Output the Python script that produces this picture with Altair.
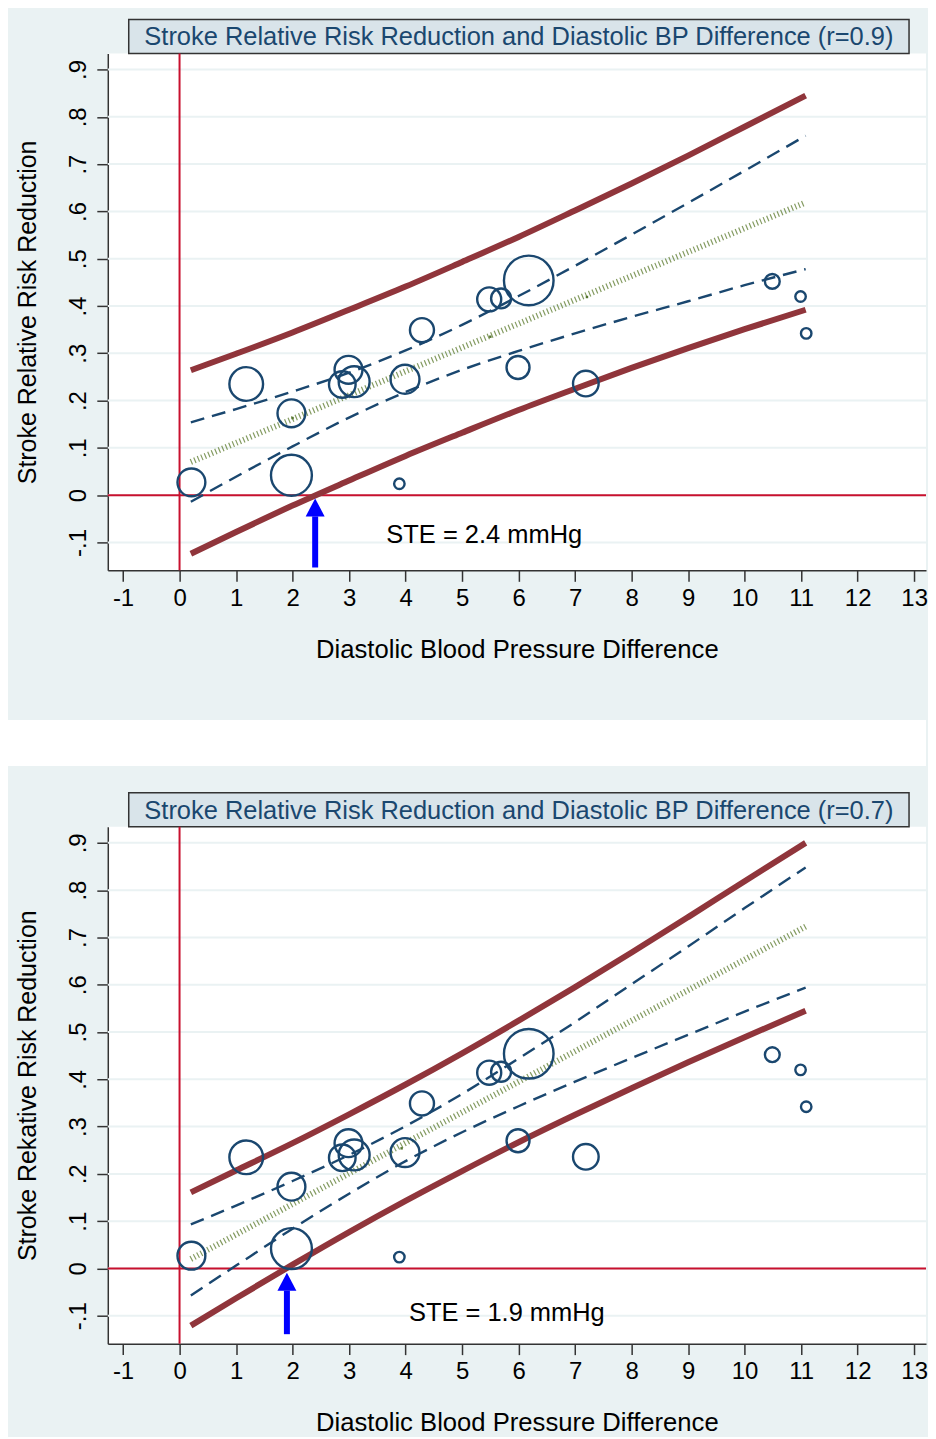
import altair as alt
import pandas as pd

FONT = "Liberation Sans"
BG = "#eaf2f3"
TITLE_BOX = "#d9e4ea"
NAVY = "#1a476f"
MAROON = "#90353b"
RED = "#c8102e"
GREEN = "#6f8a45"
BLUE = "#0000ff"

X_TICKS = list(range(-1, 14))
Y_TICKS = [-0.1, 0.0, 0.1, 0.2, 0.3, 0.4, 0.5, 0.6, 0.7, 0.8, 0.9]

# studies (same in both panels)
study_x = [0.21, 1.18, 1.98, 1.98, 2.88, 2.99, 3.09, 3.89, 3.99, 4.29, 5.48, 5.69, 6.18, 5.99, 7.19, 10.49, 10.99, 11.09]
study_y = [0.027, 0.235, 0.173, 0.042, 0.234, 0.265, 0.240, 0.024, 0.245, 0.349, 0.414, 0.416, 0.454, 0.270, 0.236, 0.452, 0.420, 0.342]
study_w = [7.8, 11.4, 7.8, 16.8, 7.1, 7.8, 9.6, 1.1, 8.4, 5.8, 5.8, 4.0, 24.7, 5.3, 6.6, 2.2, 1.1, 1.1]

# x positions at which the band curves were read
band_x = [0.2, 1, 2, 3, 4, 5, 6, 7, 8, 9, 10, 11.08]

# panel 1 (r=0.9)
p1_pi_hi = [0.264, 0.299, 0.344, 0.392, 0.441, 0.493, 0.546, 0.602, 0.659, 0.718, 0.779, 0.845]
p1_pi_lo = [-0.124, -0.078, -0.022, 0.031, 0.083, 0.132, 0.180, 0.225, 0.269, 0.311, 0.351, 0.392]
p1_ci_hi = [0.154, 0.182, 0.219, 0.259, 0.306, 0.360, 0.421, 0.485, 0.551, 0.618, 0.686, 0.760]
p1_ci_lo = [-0.014, 0.039, 0.103, 0.164, 0.218, 0.265, 0.305, 0.342, 0.377, 0.410, 0.444, 0.478]
p1_fit_x = [0.2, 11.08]
p1_fit_y = [0.070, 0.619]
p1_dot_x = [2.0, 5.5, 7.21]
p1_dot_y = [0.163, 0.335, 0.419]

# panel 2 (r=0.7)
p2_pi_hi = [0.161, 0.207, 0.265, 0.326, 0.389, 0.455, 0.524, 0.595, 0.668, 0.743, 0.819, 0.900]
p2_pi_lo = [-0.121, -0.063, 0.008, 0.077, 0.143, 0.206, 0.267, 0.325, 0.381, 0.436, 0.489, 0.545]
p2_ci_hi = [0.093, 0.133, 0.185, 0.240, 0.301, 0.369, 0.444, 0.521, 0.601, 0.681, 0.762, 0.848]
p2_ci_lo = [-0.057, 0.006, 0.084, 0.158, 0.227, 0.288, 0.343, 0.395, 0.445, 0.494, 0.543, 0.594]
p2_fit_x = [0.2, 11.08]
p2_fit_y = [0.020, 0.723]
p2_dot_x = [3.93]
p2_dot_y = [0.254]

W, H = 820, 518
xscale = alt.Scale(domain=[-1.27, 13.21], nice=False, zero=False)
yscale = alt.Scale(domain=[-0.159, 0.934], nice=False, zero=False)
ARROW_PATH = "M-1,0L1,0L0,-1.9Z"


def lines_df(pairs):
    rows = []
    for name, xs, ys in pairs:
        for a, b in zip(xs, ys):
            rows.append({"x": a, "y": b, "band": name})
    return pd.DataFrame(rows)


def panel(title, ytitle, pi, ci, fit, dots, ste, arrow_lo, arrow_hi, note, note_x, note_y,
          top_strip, gap):
    yaxis = alt.Axis(values=Y_TICKS, title=ytitle, grid=False, labelAngle=270,
                     labelExpr="datum.value == 0 ? '0' : (datum.value < 0 ? '-' : '') + "
                               "replace(format(abs(datum.value), '.1f'), '0.', '.')",
                     tickSize=11, labelPadding=6, titlePadding=26, labelFontSize=24, titleFontSize=25,
                     labelFont=FONT, titleFont=FONT, labelColor="black", titleColor="black",
                     titleFontWeight="normal", domainColor="#333333", tickColor="#333333",
                     domainWidth=1.5, tickWidth=1.5, labelOverlap=False)
    xaxis = alt.Axis(values=X_TICKS, title="Diastolic Blood Pressure Difference", grid=False,
                     labelExpr="(datum.value < 0 ? '-' : '') + abs(datum.value)",
                     tickSize=11, labelPadding=5, titlePadding=27, labelFontSize=24, titleFontSize=25.7,
                     labelFont=FONT, titleFont=FONT, labelColor="black", titleColor="black",
                     titleFontWeight="normal", domainColor="#333333", tickColor="#333333",
                     domainWidth=1.5, tickWidth=1.5, labelOverlap=False, labelFlush=False)
    X = alt.X("x:Q", scale=xscale, axis=xaxis)
    Y = alt.Y("y:Q", scale=yscale, axis=yaxis)

    one = alt.Chart(pd.DataFrame({"k": [0]}))
    layers = []
    layers.append(one.mark_rect(color=BG).encode(
        x=alt.value(-100), x2=alt.value(W), y=alt.value(top_strip), y2=alt.value(-34)))
    if gap:
        layers.append(one.mark_rect(color="white").encode(
            x=alt.value(-100), x2=alt.value(W), y=alt.value(gap[0]), y2=alt.value(gap[1])))
    layers.append(one.mark_rect(fill=TITLE_BOX, stroke="#333333", strokeWidth=1.5).encode(
        x=alt.value(21), x2=alt.value(803), y=alt.value(-34), y2=alt.value(0)))

    layers.append(alt.Chart(pd.DataFrame({"y": Y_TICKS})).mark_rule(color=BG, strokeWidth=2).encode(y=Y))
    layers.append(alt.Chart(pd.DataFrame({"x": [0]})).mark_rule(color=RED, strokeWidth=2).encode(x=X))
    layers.append(alt.Chart(pd.DataFrame({"y": [0]})).mark_rule(color=RED, strokeWidth=2).encode(y=Y))

    layers.append(alt.Chart(lines_df([("fit", fit[0], fit[1])])).mark_line(
        color=GREEN, strokeWidth=6, strokeDash=[1.2, 2.6], opacity=0.85).encode(x=X, y=Y))
    layers.append(alt.Chart(pd.DataFrame({"x": dots[0], "y": dots[1]})).mark_point(
        shape="square", filled=True, color="#55752f", size=6, opacity=1).encode(x=X, y=Y))
    layers.append(alt.Chart(lines_df([("hi", band_x, ci[0]), ("lo", band_x, ci[1])])).mark_line(
        color=NAVY, strokeWidth=2.4, strokeDash=[14, 8], interpolate="monotone").encode(
        x=X, y=Y, detail="band:N"))
    layers.append(alt.Chart(lines_df([("hi", band_x, pi[0]), ("lo", band_x, pi[1])])).mark_line(
        color=MAROON, strokeWidth=6, interpolate="monotone").encode(x=X, y=Y, detail="band:N"))
    layers.append(alt.Chart(pd.DataFrame({"x": study_x, "y": study_y, "w": study_w})).mark_point(
        shape="circle", filled=False, color=NAVY, strokeWidth=2.4, opacity=1).encode(
        x=X, y=Y, size=alt.Size("w:Q", scale=alt.Scale(domain=[0, 25], range=[0, 2500]), legend=None)))
    adf = pd.DataFrame({"x": [ste], "y": [arrow_lo], "y2": [arrow_hi]})
    layers.append(alt.Chart(adf).mark_rule(color=BLUE, strokeWidth=6).encode(x=X, y=Y, y2="y2:Q"))
    layers.append(alt.Chart(adf).mark_point(shape=ARROW_PATH, filled=True, color=BLUE, size=361,
                                            opacity=1, strokeWidth=0).encode(
        x=X, y=alt.Y("y2:Q", scale=yscale, axis=yaxis)))
    layers.append(alt.Chart(pd.DataFrame({"x": [note_x], "y": [note_y], "t": [note]})).mark_text(
        align="left", baseline="middle", font=FONT, fontSize=25.5, color="black").encode(
        x=X, y=Y, text="t:N"))
    layers.append(one.mark_text(text=title, font=FONT, fontSize=25.5, color=NAVY,
                                align="center", baseline="middle").encode(
        x=alt.value(412), y=alt.value(-16)))

    return alt.layer(*layers).properties(width=W, height=H)


top = panel("Stroke Relative Risk Reduction and Diastolic BP Difference (r=0.9)",
            "Stroke Relative Risk Reduction",
            (p1_pi_hi, p1_pi_lo), (p1_ci_hi, p1_ci_lo),
            (p1_fit_x, p1_fit_y), (p1_dot_x, p1_dot_y),
            2.4, -0.153, -0.045, "STE = 2.4 mmHg", 3.66, -0.084, -44, (668, 714))

bottom = panel("Stroke Relative Risk Reduction and Diastolic BP Difference (r=0.7)",
               "Stroke Rekative Risk Reduction",
               (p2_pi_hi, p2_pi_lo), (p2_ci_hi, p2_ci_lo),
               (p2_fit_x, p2_fit_y), (p2_dot_x, p2_dot_y),
               1.9, -0.139, -0.047, "STE = 1.9 mmHg", 4.06, -0.095, -61, None)

chart = alt.vconcat(top, bottom, spacing=0).properties(
    padding=0, background=BG
).configure(font=FONT).configure_view(strokeWidth=0, fill="white")

chart.save("out.html", embed_options={"renderer": "svg", "actions": False})
